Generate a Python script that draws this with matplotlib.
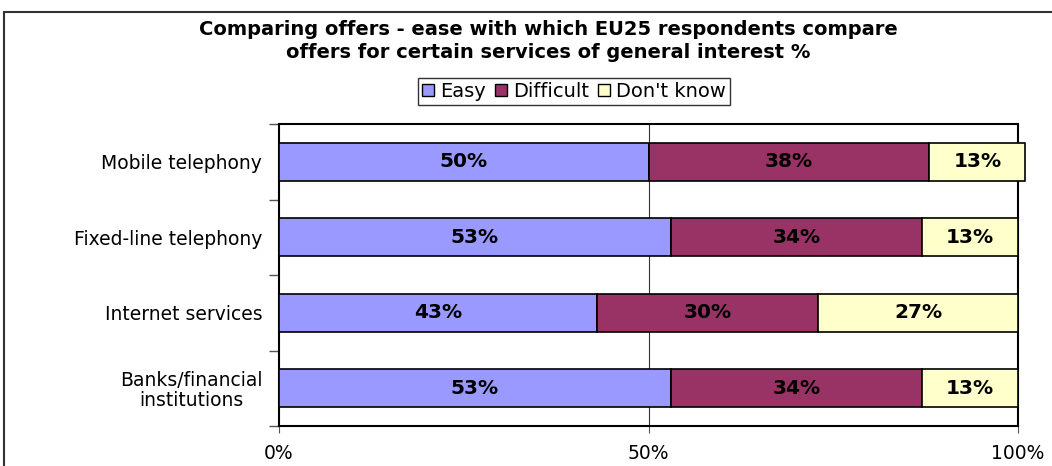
import matplotlib
matplotlib.use("Agg")
import matplotlib.pyplot as plt
from matplotlib.patches import Rectangle, Patch
import numpy as np

categories = ["Mobile telephony", "Fixed-line telephony", "Internet services", "Banks/financial\ninstitutions"]
easy = [50, 53, 43, 53]
difficult = [38, 34, 30, 34]
dont_know = [13, 13, 27, 13]
series_names = ["Easy", "Difficult", "Don't know"]
colors = ["#9999FF", "#993366", "#FFFFCC"]
xticks = [0, 50, 100]
xticklabels = ["0%", "50%", "100%"]
title = "Comparing offers - ease with which EU25 respondents compare\noffers for certain services of general interest %"

plt.rcParams['font.family'] = ['DejaVu Sans']
fig = plt.figure(figsize=(10.52, 4.66), dpi=100)
ax = fig.add_axes([279/1052, 1-426/466, (1018-279)/1052, (426-124)/466])

# outer frame
fig.patches.append(Rectangle((4/1052, -0.1), 1.1, 1-12/466+0.1, transform=fig.transFigure,
                             fill=False, edgecolor="#333333", linewidth=1.5, clip_on=False))

y = np.arange(len(categories))
series = [easy, difficult, dont_know]
left = np.zeros(len(categories))
for vals, name, col in zip(series, series_names, colors):
    vals = np.array(vals, dtype=float)
    ax.barh(y, vals, left=left, height=0.5, color=col, edgecolor="black",
            linewidth=1.2, label=name, clip_on=False, zorder=3)
    for yi, l, v in zip(y, left, vals):
        ax.text(l + v/2, yi, f"{int(v)}%", ha="center", va="center",
                fontsize=14.5, fontweight="bold", color="black", zorder=4, clip_on=False)
    left += vals

ax.set_ylim(3.5, -0.5)
ax.set_xlim(0, 100)
ax.set_yticks(y)
ax.set_yticklabels(categories, fontsize=13.5, linespacing=1.05)
for lbl in ax.get_yticklabels():
    lbl.set_multialignment("center")
ax.set_yticks(np.arange(-0.5, 4, 1), minor=True)
ax.tick_params(axis="y", which="major", length=0, pad=12)
ax.tick_params(axis="y", which="minor", length=7, direction="out", width=1, color="#555555")
ax.set_xticks(xticks)
ax.set_xticklabels(xticklabels, fontsize=13.5)
ax.tick_params(axis="x", length=5, direction="out", pad=8, color="#555555")
ax.axvline(50, color="#333333", linewidth=0.8, zorder=1)
for s in ax.spines.values():
    s.set_color("black")
    s.set_linewidth(1.5)

fig.text(548/1052, 1-41/466, title, ha="center", va="center", fontsize=14,
         fontweight="bold", linespacing=1.22)

handles = [Patch(facecolor=c, edgecolor="black", linewidth=1) for c in colors]
leg = fig.legend(handles, series_names, loc="center", bbox_to_anchor=(574/1052, 1-91.5/466),
                 ncol=3, fontsize=14, frameon=True, fancybox=False, handlelength=0.6,
                 handleheight=0.6, handletextpad=0.3, columnspacing=0.5, borderpad=0.2,
                 borderaxespad=0)
leg.get_frame().set_edgecolor("black")
leg.get_frame().set_linewidth(1)

fig.savefig("out.png", dpi=100, facecolor="white")
